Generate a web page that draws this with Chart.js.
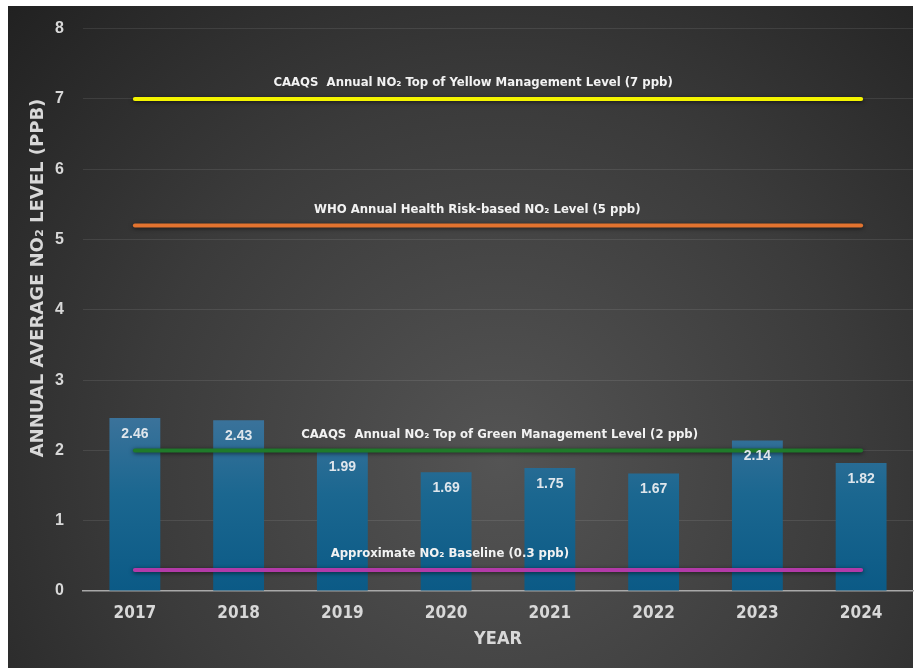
<!DOCTYPE html>
<html>
<head>
<meta charset="utf-8">
<title>Annual Average NO2 Level</title>
<script src="https://cdn.jsdelivr.net/npm/chart.js@4.4.1/dist/chart.umd.min.js"></script>
<style>
  html, body { margin: 0; padding: 0; background: #ffffff; }
  #wrap { width: 915px; height: 668px; }
</style>
</head>
<body>
<div id="wrap"><canvas id="no2Chart" width="915" height="668"></canvas></div>
<script>
// Annual average NO2 (ppb) per year
const years = ['2017', '2018', '2019', '2020', '2021', '2022', '2023', '2024'];
const annualNo2 = [2.46, 2.43, 1.99, 1.69, 1.75, 1.67, 2.14, 1.82];

// Reference levels drawn as horizontal lines
const refValues = [7, 5.2, 2, 0.3];
const refLabels = [
  'CAAQS  Annual NO\u2082 Top of Yellow Management Level (7 ppb)',
  'WHO Annual Health Risk-based NO\u2082 Level (5 ppb)',
  'CAAQS  Annual NO\u2082 Top of Green Management Level (2 ppb)',
  'Approximate NO\u2082 Baseline (0.3 ppb)'
];

const yAxisTitle = 'ANNUAL AVERAGE NO\u2082 LEVEL (PPB)';
const xAxisTitle = 'YEAR';

// styling
const refColors = ['#f4f400', '#e2732f', '#1f7a2a', '#b23aa8'];
const refLabelPos = [0.47, 0.475, 0.502, 0.442]; // fraction across plot area
const NARROW = '"DejaVu Sans Condensed", sans-serif';
const SANS = '"Liberation Sans", Arial, sans-serif';
const WIDE = '"DejaVu Sans", sans-serif';
const TEXT = '#d8d8d8';

// dark radial backdrop behind everything
const backdrop = {
  id: 'backdrop',
  beforeDraw(chart) {
    const ctx = chart.ctx;
    ctx.save();
    ctx.fillStyle = '#ffffff';
    ctx.fillRect(0, 0, chart.width, chart.height);
    const g = ctx.createRadialGradient(500, 460, 0, 500, 460, 720);
    g.addColorStop(0, '#545454');
    g.addColorStop(0.5, '#3b3b3b');
    g.addColorStop(1, '#1d1d1d');
    ctx.fillStyle = g;
    ctx.fillRect(8, 6, chart.width - 10, chart.height - 6);
    ctx.restore();
  }
};

// soft dark halo under the reference lines
const lineShadow = {
  id: 'lineShadow',
  beforeDatasetDraw(chart, args) {
    if (args.meta.type !== 'line') return;
    chart.ctx.save();
    chart.ctx.shadowColor = 'rgba(0,0,0,0.6)';
    chart.ctx.shadowBlur = 4;
    chart.ctx.shadowOffsetY = 1;
  },
  afterDatasetDraw(chart, args) {
    if (args.meta.type !== 'line') return;
    chart.ctx.restore();
  }
};

// bar values, reference line captions and the rotated y title
const annotations = {
  id: 'annotations',
  afterDatasetsDraw(chart) {
    const ctx = chart.ctx;
    const area = chart.chartArea;
    const yScale = chart.scales.y;
    ctx.save();
    ctx.textAlign = 'center';
    ctx.textBaseline = 'middle';

    const barMeta = chart.getDatasetMeta(0);
    ctx.font = 'bold 14px ' + SANS;
    ctx.fillStyle = '#dfe6ec';
    barMeta.data.forEach((bar, i) => {
      ctx.fillText(annualNo2[i].toFixed(2), bar.x, bar.y + 16);
    });

    ctx.font = 'bold 13px ' + NARROW;
    ctx.fillStyle = '#f2f2f2';
    refValues.forEach((v, i) => {
      const x = area.left + refLabelPos[i] * (area.right - area.left);
      ctx.fillText(refLabels[i], x, yScale.getPixelForValue(v) - 16);
    });

    ctx.translate(38, 278);
    ctx.rotate(-Math.PI / 2);
    ctx.font = 'bold 18px ' + WIDE;
    ctx.fillStyle = TEXT;
    ctx.fillText(yAxisTitle, 0, 0);
    ctx.restore();
  }
};

const refDatasets = refValues.map((v, i) => ({
  type: 'line',
  label: refLabels[i],
  data: [{ x: years[0], y: v }, { x: years[years.length - 1], y: v }],
  borderColor: refColors[i],
  borderWidth: 4,
  borderCapStyle: 'round',
  pointRadius: 0,
  order: i + 1
}));

const ctx = document.getElementById('no2Chart').getContext('2d');
new Chart(ctx, {
  type: 'bar',
  data: {
    labels: years,
    datasets: [
      {
        label: 'Annual average NO2',
        data: annualNo2,
        order: 10,
        barPercentage: 0.49,
        categoryPercentage: 1,
        backgroundColor: (c) => {
          const area = c.chart.chartArea;
          if (!area) return '#1a6690';
          const ys = c.chart.scales.y;
          const g = c.chart.ctx.createLinearGradient(0, ys.getPixelForValue(2.5), 0, ys.getPixelForValue(0));
          g.addColorStop(0, '#3c739b');
          g.addColorStop(0.45, '#1b6790');
          g.addColorStop(1, '#0b5a86');
          return g;
        }
      },
      ...refDatasets
    ]
  },
  options: {
    responsive: false,
    animation: false,
    devicePixelRatio: 1,
    layout: { padding: { left: 8, right: 2, top: 24, bottom: 0 } },
    plugins: {
      legend: { display: false },
      tooltip: { enabled: false }
    },
    scales: {
      x: {
        grid: { display: false, drawTicks: false },
        border: { display: true, color: '#a8a8a8', width: 1.5 },
        ticks: {
          color: TEXT,
          padding: 12,
          font: { family: NARROW, size: 17, weight: 'bold' }
        },
        title: {
          display: true,
          text: xAxisTitle,
          color: TEXT,
          font: { family: NARROW, size: 18, weight: 'bold' },
          padding: { top: 0, bottom: 18 }
        },
        afterFit: (s) => { s.height = 77; }
      },
      y: {
        min: 0,
        max: 8,
        grid: {
          drawTicks: false,
          color: (c) => c.tick.value === 0 ? 'rgba(0,0,0,0)' : 'rgba(255,255,255,0.09)'
        },
        border: { display: false },
        ticks: {
          stepSize: 1,
          color: TEXT,
          padding: 19,
          font: { family: SANS, size: 16, weight: 'bold' }
        },
        afterFit: (s) => { s.width = 75; }
      }
    }
  },
  plugins: [backdrop, lineShadow, annotations]
});
</script>
</body>
</html>
